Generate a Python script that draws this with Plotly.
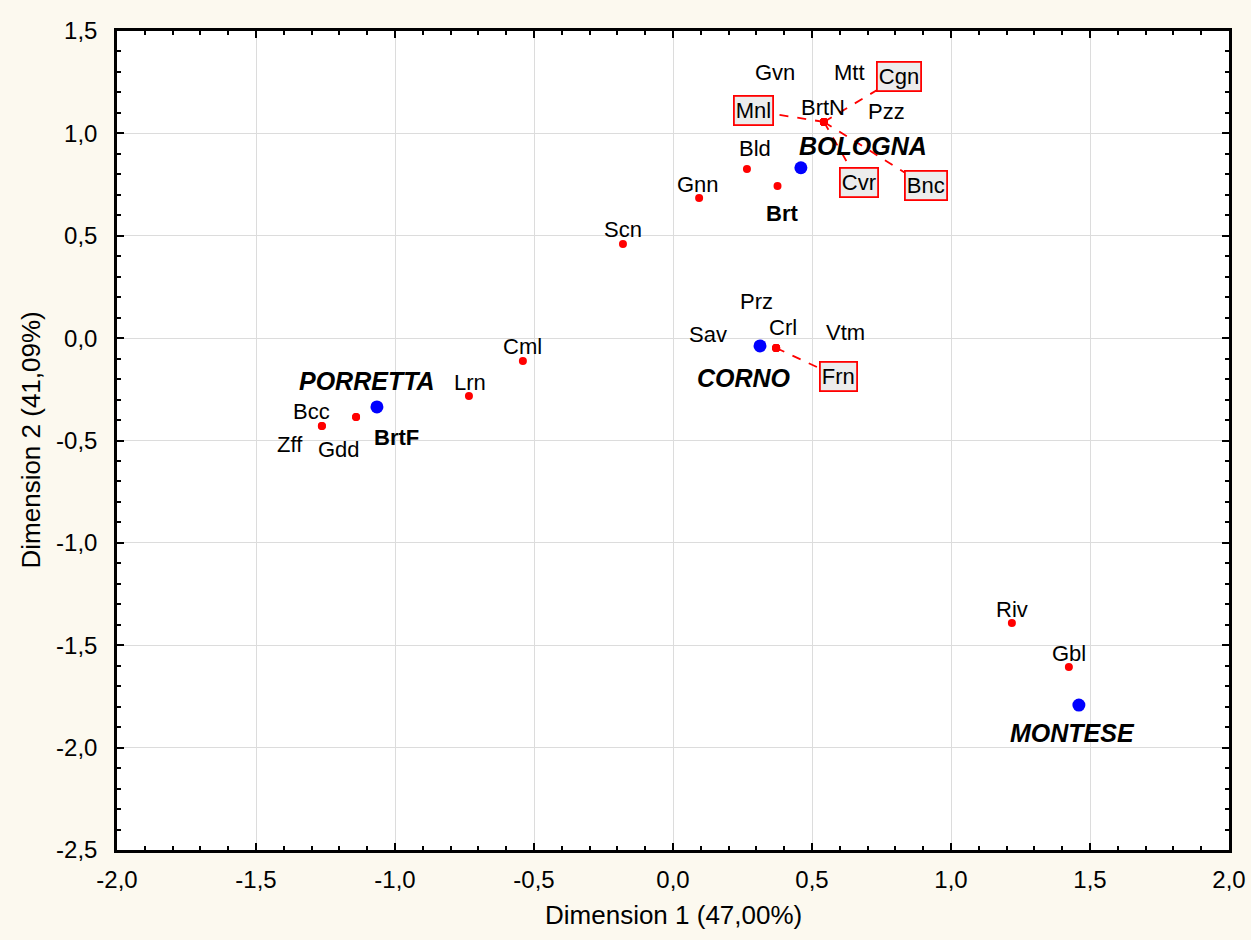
import plotly.graph_objects as go

# ---------------- data ----------------
site_names = ["Gvn", "Mtt", "Cgn", "Mnl", "BrtN", "Pzz", "Cvr", "Bnc",
              "Bld", "Brt", "Gnn", "Scn", "Cml", "Lrn",
              "Gdd", "BrtF", "Bcc", "Zff",
              "Crl", "Prz", "Sav", "Vtm", "Frn",
              "Riv", "Gbl"]
site_x = [0.543, 0.543, 0.543, 0.543, 0.543, 0.543, 0.543, 0.543,
          0.266, 0.376, 0.094, -0.180, -0.540, -0.734,
          -1.140, -1.140, -1.263, -1.263,
          0.371, 0.371, 0.371, 0.371, 0.371,
          1.219, 1.424]
site_y = [1.056, 1.056, 1.056, 1.056, 1.056, 1.056, 1.056, 1.056,
          0.826, 0.743, 0.684, 0.460, -0.112, -0.283,
          -0.385, -0.385, -0.429, -0.429,
          -0.048, -0.048, -0.048, -0.048, -0.048,
          -1.391, -1.606]

centroid_names = ["BOLOGNA", "PORRETTA", "CORNO", "MONTESE"]
centroid_x = [0.460, -1.065, 0.313, 1.460]
centroid_y = [0.832, -0.336, -0.038, -1.792]

tick_vals_x = [-2.0, -1.5, -1.0, -0.5, 0.0, 0.5, 1.0, 1.5, 2.0]
tick_text_x = ["-2,0", "-1,5", "-1,0", "-0,5", "0,0", "0,5", "1,0", "1,5", "2,0"]
tick_vals_y = [-2.5, -2.0, -1.5, -1.0, -0.5, 0.0, 0.5, 1.0, 1.5]
tick_text_y = ["-2,5", "-2,0", "-1,5", "-1,0", "-0,5", "0,0", "0,5", "1,0", "1,5"]

x_title = "Dimension 1 (47,00%)"
y_title = "Dimension 2 (41,09%)"

# ---------------- layout / label placement (pixels) ----------------
W, H = 1251, 940
ML, MR, MT, MB = 117, 22, 31, 90
XR = (-2.0, 2.0)
YR = (-2.5, 1.5)
px_x = (W - ML - MR) / (XR[1] - XR[0])
px_y = (H - MT - MB) / (YR[1] - YR[0])

label_offset = {
    "Gvn": (-49, -49), "Mtt": (26, -49), "Cgn": (75, -45), "Mnl": (-70, -11),
    "BrtN": (-1, -14), "Pzz": (63, -10), "Cvr": (35, 61), "Bnc": (102, 64),
    "Bld": (8, -21), "Brt": (4, 27), "Gnn": (-1, -14), "Scn": (0, -14),
    "Cml": (0, -15), "Lrn": (1, -14),
    "Gdd": (-17, 33), "BrtF": (40, 21), "Bcc": (-10, -14), "Zff": (-32, 19),
    "Crl": (7, -20), "Prz": (-20, -46), "Sav": (-68, -13), "Vtm": (69, -15),
    "Frn": (62, 29),
    "Riv": (0, -13), "Gbl": (0, -13),
}
boxed = {"Cgn", "Mnl", "Cvr", "Bnc", "Frn"}
bold = {"Brt", "BrtF"}
centroid_offset = {"BOLOGNA": (62, -22), "PORRETTA": (-10, -26),
                   "CORNO": (-16, 32), "MONTESE": (-6, 28)}

FONT = "Liberation Sans, Arial, sans-serif"
BG = "#fcf9ef"

fig = go.Figure()

# dashed leader lines for displaced labels
for n, x, y in zip(site_names, site_x, site_y):
    if n in boxed:
        dx, dy = label_offset[n]
        fig.add_trace(go.Scatter(
            x=[x, x + dx / px_x], y=[y, y - dy / px_y], mode="lines",
            line=dict(color="#ff0000", width=1.8, dash="dash"),
            hoverinfo="skip", showlegend=False))

fig.add_trace(go.Scatter(x=site_x, y=site_y, mode="markers",
                         marker=dict(color="#ff0000", size=8),
                         text=site_names, showlegend=False))
fig.add_trace(go.Scatter(x=centroid_x, y=centroid_y, mode="markers",
                         marker=dict(color="#0000ff", size=13),
                         text=centroid_names, showlegend=False))

annotations = []
for n, x, y in zip(site_names, site_x, site_y):
    dx, dy = label_offset[n]
    txt = f"<b>{n}</b>" if n in bold else n
    a = dict(x=x, y=y, xref="x", yref="y", text=txt, showarrow=False,
             xshift=dx, yshift=-dy, font=dict(family=FONT, size=22, color="#000000"))
    if n in boxed:
        a.update(bordercolor="#ff0000", borderwidth=1.8, bgcolor="#ececec", borderpad=1)
    annotations.append(a)
for n, x, y in zip(centroid_names, centroid_x, centroid_y):
    dx, dy = centroid_offset[n]
    annotations.append(dict(x=x, y=y, xref="x", yref="y", text=f"<b><i>{n}</i></b>",
                            showarrow=False, xshift=dx, yshift=-dy,
                            font=dict(family=FONT, size=25, color="#000000")))

annotations.append(dict(x=0.5, y=0, xref="paper", yref="paper", text=x_title,
                        showarrow=False, yshift=-65, yanchor="middle",
                        font=dict(family=FONT, size=26, color="#000000")))
annotations.append(dict(x=0, y=0.5, xref="paper", yref="paper", text=y_title,
                        showarrow=False, xshift=-87, xanchor="center", textangle=-90,
                        font=dict(family=FONT, size=26, color="#000000")))

axis_common = dict(
    showline=True, linecolor="#000000", linewidth=2.5, mirror="ticks",
    ticks="inside", ticklen=7, tickwidth=1.5, tickcolor="#000000",
    showgrid=True, gridcolor="#dcdcdc", gridwidth=1, zeroline=False,
    tickfont=dict(family=FONT, size=24, color="#000000"),
    minor=dict(ticks="inside", ticklen=4, tickwidth=1.5, tickcolor="#000000",
               dtick=0.1, showgrid=False),
)

fig.update_layout(
    width=W, height=H,
    margin=dict(l=ML, r=MR, t=MT, b=MB, autoexpand=False),
    paper_bgcolor=BG, plot_bgcolor="#ffffff",
    xaxis=dict(range=list(XR), tickvals=tick_vals_x, ticktext=tick_text_x,
               ticklabelstandoff=6, **axis_common),
    yaxis=dict(range=list(YR), tickvals=tick_vals_y, ticktext=tick_text_y,
               ticklabelstandoff=12, **axis_common),
    annotations=annotations,
    showlegend=False,
)

fig.write_html("out.html", config={"displayModeBar": False},
               post_script=f"document.body.style.margin='0';document.body.style.background='{BG}';")
